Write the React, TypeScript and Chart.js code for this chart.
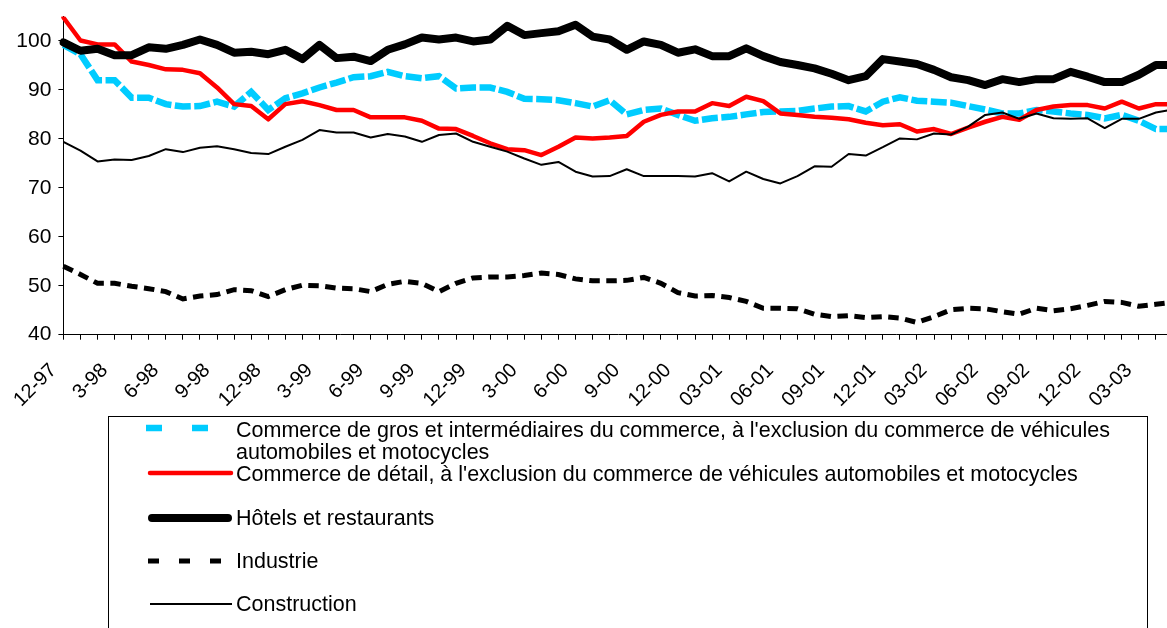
import React, { useEffect, useRef } from 'react';
import { Chart, registerables } from 'chart.js';

Chart.register(...registerables);

const months: string[] = [
  '12-97',
  '1-98', '2-98', '3-98', '4-98', '5-98', '6-98', '7-98', '8-98', '9-98', '10-98', '11-98', '12-98',
  '1-99', '2-99', '3-99', '4-99', '5-99', '6-99', '7-99', '8-99', '9-99', '10-99', '11-99', '12-99',
  '1-00', '2-00', '3-00', '4-00', '5-00', '6-00', '7-00', '8-00', '9-00', '10-00', '11-00', '12-00',
  '01-01', '02-01', '03-01', '04-01', '05-01', '06-01', '07-01', '08-01', '09-01', '10-01', '11-01', '12-01',
  '01-02', '02-02', '03-02', '04-02', '05-02', '06-02', '07-02', '08-02', '09-02', '10-02', '11-02', '12-02',
  '01-03', '02-03', '03-03', '04-03', '05-03',
];

const gros: number[] = [
  99.2, 97.3, 92.0, 92.0, 88.4, 88.4, 87.1, 86.6, 86.7, 87.6, 86.6, 89.6, 85.9,
  88.3, 89.3, 90.5, 91.5, 92.6, 92.8, 93.7, 92.8, 92.4, 92.8, 90.3, 90.5,
  90.5, 89.6, 88.2, 88.1, 87.9, 87.3, 86.6, 87.9, 85.0, 85.9, 86.2, 84.9,
  83.7, 84.2, 84.5, 85.0, 85.5, 85.6, 85.7, 86.2, 86.6, 86.7, 85.6, 87.6,
  88.5, 87.8, 87.6, 87.4, 86.7, 86.0, 85.2, 85.2, 85.9, 85.6, 85.2, 84.9,
  84.2, 84.9, 83.7, 82.0, 82.0,
];

const detail: number[] = [
  104.8, 100.1, 99.3, 99.3, 95.8, 95.1, 94.2, 94.1, 93.4, 90.5, 87.1, 86.7, 84.0,
  87.1, 87.7, 86.9, 85.9, 85.9, 84.4, 84.4, 84.4, 83.7, 82.1, 82.0, 80.6,
  79.1, 77.9, 77.7, 76.7, 78.4, 80.3, 80.1, 80.3, 80.6, 83.5, 84.9, 85.6,
  85.6, 87.3, 86.7, 88.6, 87.7, 85.2, 84.9, 84.5, 84.3, 84.0, 83.3, 82.8,
  83.0, 81.5, 82.0, 81.0, 82.3, 83.5, 84.5, 83.9, 85.9, 86.6, 86.9, 86.9,
  86.2, 87.6, 86.2, 87.1, 87.1,
];

const hotels: number[] = [
  99.7, 98.0, 98.4, 97.1, 97.1, 98.7, 98.4, 99.2, 100.3, 99.2, 97.6, 97.8, 97.3,
  98.2, 96.3, 99.2, 96.5, 96.8, 95.9, 98.2, 99.3, 100.7, 100.3, 100.7, 99.9,
  100.3, 103.1, 101.2, 101.6, 102.0, 103.3, 100.9, 100.3, 98.2, 99.9, 99.2, 97.6,
  98.3, 96.9, 96.9, 98.5, 96.9, 95.7, 95.1, 94.4, 93.3, 92.0, 92.8, 96.3,
  95.8, 95.3, 94.1, 92.6, 92.0, 91.0, 92.2, 91.6, 92.2, 92.2, 93.7, 92.7,
  91.6, 91.6, 93.1, 95.1, 95.1,
];

const industrie: number[] = [
  54.0, 52.3, 50.5, 50.5, 49.9, 49.4, 48.8, 47.3, 47.9, 48.2, 49.2, 49.0, 47.8,
  49.2, 50.1, 50.0, 49.5, 49.4, 48.8, 50.3, 50.9, 50.5, 48.8, 50.5, 51.6,
  51.8, 51.8, 52.1, 52.6, 52.3, 51.4, 51.0, 51.0, 51.1, 51.7, 50.5, 48.6,
  47.9, 48.0, 47.6, 46.8, 45.4, 45.4, 45.3, 44.2, 43.7, 43.9, 43.5, 43.7,
  43.4, 42.5, 43.7, 45.1, 45.4, 45.3, 44.7, 44.2, 45.4, 44.9, 45.3, 46.0,
  46.8, 46.6, 45.8, 46.2, 46.6,
];

const construction: number[] = [
  79.4, 77.6, 75.4, 75.8, 75.7, 76.5, 77.9, 77.3, 78.2, 78.5, 77.9, 77.1, 76.9,
  78.4, 79.8, 81.8, 81.3, 81.3, 80.3, 81.0, 80.5, 79.4, 80.8, 81.1, 79.4,
  78.4, 77.4, 76.0, 74.7, 75.3, 73.3, 72.3, 72.4, 73.8, 72.4, 72.4, 72.4,
  72.3, 73.0, 71.3, 73.3, 71.8, 70.9, 72.4, 74.4, 74.3, 76.9, 76.6, 78.3,
  80.1, 79.9, 81.1, 80.9, 82.5, 84.9, 85.4, 84.1, 85.2, 84.2, 84.1, 84.2,
  82.2, 84.1, 84.1, 85.4, 86.0,
];

const yTicks: number[] = [40, 50, 60, 70, 80, 90, 100];

const seriesNames: string[] = [
  "Commerce de gros et intermédiaires du commerce, à l'exclusion du commerce de véhicules",
  'automobiles et motocycles',
  "Commerce de détail, à l'exclusion du commerce de véhicules automobiles et motocycles",
  'Hôtels et restaurants',
  'Industrie',
  'Construction',
];

const FONT = '"Liberation Sans", Arial, sans-serif';
const CYAN = '#00CCFF';

export default function App() {
  const canvasRef = useRef<HTMLCanvasElement | null>(null);

  useEffect(() => {
    const canvas = canvasRef.current;
    if (!canvas) return;
    const chart = new Chart(canvas, {
      type: 'line',
      data: {
        labels: months,
        datasets: [
          {
            label: seriesNames[0] + ' ' + seriesNames[1],
            data: gros,
            borderColor: CYAN,
            borderWidth: 6.5,
            borderDash: [16, 3.5],
            borderCapStyle: 'butt',
            borderJoinStyle: 'miter',
            pointRadius: 0,
            tension: 0,
            fill: false,
            order: 5,
          },
          {
            label: seriesNames[2],
            data: detail,
            borderColor: '#FF0000',
            borderWidth: 4.5,
            borderJoinStyle: 'round',
            borderCapStyle: 'round',
            pointRadius: 0,
            tension: 0,
            fill: false,
            order: 4,
          },
          {
            label: seriesNames[3],
            data: hotels,
            borderColor: '#000000',
            borderWidth: 8,
            borderJoinStyle: 'round',
            borderCapStyle: 'round',
            pointRadius: 0,
            tension: 0,
            fill: false,
            order: 3,
          },
          {
            label: seriesNames[4],
            data: industrie,
            borderColor: '#000000',
            borderWidth: 5,
            borderDash: [10.5, 6.5],
            borderCapStyle: 'butt',
            borderJoinStyle: 'miter',
            pointRadius: 0,
            tension: 0,
            fill: false,
            order: 2,
          },
          {
            label: seriesNames[5],
            data: construction,
            borderColor: '#000000',
            borderWidth: 2,
            borderJoinStyle: 'round',
            pointRadius: 0,
            tension: 0,
            fill: false,
            order: 1,
          },
        ],
      },
      options: {
        responsive: false,
        animation: false,
        layout: { padding: { left: 0, top: 16.5, right: 7, bottom: 0 } },
        plugins: {
          legend: { display: false },
          tooltip: { enabled: false },
          title: { display: false },
        },
        scales: {
          x: {
            type: 'category',
            offset: false,
            grid: {
              display: true,
              drawOnChartArea: false,
              drawTicks: true,
              tickLength: 5,
              color: '#000000',
              lineWidth: 1,
              offset: false,
            },
            border: { display: true, color: '#000000', width: 1 },
            ticks: {
              autoSkip: false,
              maxRotation: 45,
              minRotation: 45,
              padding: 19,
              labelOffset: -10,
              color: '#000000',
              font: { family: FONT, size: 20 },
              callback: (_v: any, i: number) => (i % 3 === 0 ? months[i] : ''),
            },
            afterFit: (scale: any) => {
              scale.height = 85.3;
              scale.paddingLeft = 0;
              scale.paddingRight = 0;
            },
          },
          y: {
            type: 'linear',
            min: 40,
            max: 105,
            grid: {
              display: true,
              drawOnChartArea: false,
              drawTicks: true,
              tickLength: 5,
              color: '#000000',
              lineWidth: 1,
            },
            border: { display: true, color: '#000000', width: 1 },
            afterBuildTicks: (scale: any) => {
              scale.ticks = yTicks.map((v) => ({ value: v }));
            },
            ticks: {
              padding: 7,
              color: '#000000',
              font: { family: FONT, size: 21 },
              callback: (v: any) => String(v),
            },
            afterFit: (scale: any) => {
              scale.width = 63.4;
              scale.paddingTop = 0;
              scale.paddingBottom = 0;
            },
          },
        },
      },
    } as any);
    return () => {
      chart.destroy();
    };
  }, []);

  const textStyle: React.CSSProperties = {
    position: 'absolute',
    left: 236,
    fontFamily: FONT,
    fontSize: 21.5,
    lineHeight: '22px',
    color: '#000',
    whiteSpace: 'nowrap',
  };

  return (
    <div
      style={{
        position: 'fixed',
        left: 0,
        top: 0,
        width: 1167,
        height: 628,
        overflow: 'hidden',
        background: '#ffffff',
      }}
    >
      <canvas
        ref={canvasRef}
        width={1180}
        height={420}
        style={{ position: 'absolute', left: 0, top: 0, width: 1180, height: 420 }}
      />
      <div
        style={{
          position: 'absolute',
          left: 108,
          top: 416,
          width: 1040,
          height: 300,
          border: '1px solid #000',
          boxSizing: 'border-box',
        }}
      />
      <svg
        width={1167}
        height={628}
        style={{ position: 'absolute', left: 0, top: 0, pointerEvents: 'none' }}
      >
        <line x1={146} y1={428} x2={208} y2={428} stroke={CYAN} strokeWidth={6.5} strokeDasharray="16 30" />
        <line x1={150} y1={473} x2={231} y2={473} stroke="#FF0000" strokeWidth={4.5} strokeLinecap="round" />
        <line x1={152} y1={518} x2={228} y2={518} stroke="#000" strokeWidth={8} strokeLinecap="round" />
        <line x1={148} y1={561} x2={221} y2={561} stroke="#000" strokeWidth={5} strokeDasharray="11 20" />
        <line x1={150} y1={604} x2={232} y2={604} stroke="#000" strokeWidth={2} />
      </svg>
      <div style={{ ...textStyle, top: 419 }}>
        {seriesNames[0]}
        <br />
        {seriesNames[1]}
      </div>
      <div style={{ ...textStyle, top: 463 }}>{seriesNames[2]}</div>
      <div style={{ ...textStyle, top: 507 }}>{seriesNames[3]}</div>
      <div style={{ ...textStyle, top: 550 }}>{seriesNames[4]}</div>
      <div style={{ ...textStyle, top: 593 }}>{seriesNames[5]}</div>
    </div>
  );
}
